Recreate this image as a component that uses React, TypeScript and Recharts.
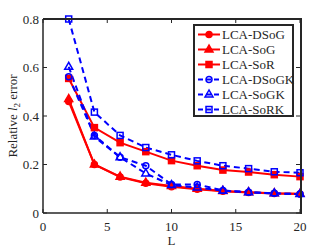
import { LineChart, Line, XAxis, YAxis } from "recharts"

const RED = "#ff0000"
const BLUE = "#0000ff"
const AXIS = "#262626"
const FONT = "'Liberation Serif', 'Times New Roman', serif"
const W = 332
const H = 249
const MARGIN = { top: 19, right: 32, left: 3, bottom: 6 }
const Y_AXIS_W = 40
const X_AXIS_H = 30

const L = [2, 4, 6, 8, 10, 12, 14, 16, 18, 20]
const dsog = [0.46, 0.2, 0.148, 0.123, 0.108, 0.098, 0.09, 0.085, 0.08, 0.078]
const sog = [0.47, 0.2, 0.15, 0.125, 0.111, 0.1, 0.091, 0.086, 0.081, 0.079]
const sor = [0.555, 0.352, 0.29, 0.253, 0.216, 0.195, 0.177, 0.169, 0.158, 0.15]
const dsogk = [0.562, 0.32, 0.23, 0.195, 0.118, 0.118, 0.093, 0.086, 0.081, 0.078]
const sogk = [0.603, 0.315, 0.23, 0.163, 0.115, 0.105, 0.092, 0.086, 0.081, 0.078]
const sork = [0.8, 0.416, 0.32, 0.27, 0.24, 0.215, 0.195, 0.183, 0.17, 0.166]

const xTicks = [0, 5, 10, 15, 20]
const yTicks = [0, 0.2, 0.4, 0.6, 0.8]
const X_MAX = 20
const Y_MAX = 0.8

const data = L.map((l, i) => ({
  L: l,
  dsog: dsog[i],
  sog: sog[i],
  sor: sor[i],
  dsogk: dsogk[i],
  sogk: sogk[i],
  sork: sork[i],
}))

const series = [
  { key: "dsog", name: "LCA-DSoG", color: RED, dashed: false, shape: "circle", filled: true },
  { key: "sog", name: "LCA-SoG", color: RED, dashed: false, shape: "triangle", filled: true },
  { key: "sor", name: "LCA-SoR", color: RED, dashed: false, shape: "square", filled: true },
  { key: "dsogk", name: "LCA-DSoGK", color: BLUE, dashed: true, shape: "circle", filled: false },
  { key: "sogk", name: "LCA-SoGK", color: BLUE, dashed: true, shape: "triangle", filled: false },
  { key: "sork", name: "LCA-SoRK", color: BLUE, dashed: true, shape: "square", filled: false },
]

function Marker({ cx, cy, shape, color, filled }: any) {
  const fill = filled ? color : "none"
  if (shape === "circle") {
    return <circle cx={cx} cy={cy} r={3} fill={fill} stroke={color} strokeWidth={1.5} />
  }
  if (shape === "triangle") {
    return (
      <polygon
        points={`${cx},${cy - 4.5} ${cx - 4},${cy + 2.5} ${cx + 4},${cy + 2.5}`}
        fill={fill}
        stroke={color}
        strokeWidth={1.5}
      />
    )
  }
  return <rect x={cx - 3} y={cy - 3} width={6} height={6} fill={fill} stroke={color} strokeWidth={1.5} />
}

const BottomTick = ({ x, y, payload }: any) => (
  <g>
    <line x1={x} x2={x} y1={y} y2={y - 4} stroke={AXIS} strokeWidth={1} />
    <text x={x} y={y + 18} textAnchor="middle" fontFamily={FONT} fontSize={13} fill={AXIS}>
      {payload.value}
    </text>
  </g>
)

const LeftTick = ({ x, y, payload }: any) => (
  <g>
    <line x1={x} x2={x + 4} y1={y} y2={y} stroke={AXIS} strokeWidth={1} />
    <text x={x - 4} y={y + 4.5} textAnchor="end" fontFamily={FONT} fontSize={13} fill={AXIS}>
      {payload.value}
    </text>
  </g>
)

// top and right sides of the box, with inward ticks; plot rect follows from the chart margins
function Frame() {
  const left = MARGIN.left + Y_AXIS_W
  const right = W - MARGIN.right
  const top = MARGIN.top
  const bottom = H - MARGIN.bottom - X_AXIS_H
  return (
    <>
      <div
        style={{
          position: "absolute",
          left: left,
          top: top - 1,
          width: right - left,
          height: bottom - top,
          borderTop: "2px solid #262626",
          borderRight: "2px solid #262626",
          pointerEvents: "none",
        }}
      />
      <svg width={W} height={H} style={{ position: "absolute", left: 0, top: 0, pointerEvents: "none" }}>
        {xTicks.map((t) => {
          const x = left + (t / X_MAX) * (right - left)
          return <line key={`tx${t}`} x1={x} x2={x} y1={top} y2={top + 4} stroke={AXIS} strokeWidth={1} />
        })}
        {yTicks.map((t) => {
          const y = bottom - (t / Y_MAX) * (bottom - top)
          return <line key={`ty${t}`} x1={right} x2={right - 4} y1={y} y2={y} stroke={AXIS} strokeWidth={1} />
        })}
      </svg>
    </>
  )
}

function LegendBox() {
  return (
    <div
      style={{
        position: "absolute",
        left: 193,
        top: 24,
        width: 97,
        height: 89,
        border: "2px solid #262626",
        background: "#fff",
        fontFamily: FONT,
        fontSize: 13,
        color: AXIS,
      }}
    >
      {series.map((s, i) => (
        <div
          key={s.key}
          style={{ position: "absolute", left: 2, top: 1 + i * 15, height: 15, display: "flex", alignItems: "center" }}
        >
          <svg width={24} height={15}>
            <line
              x1={1}
              x2={23}
              y1={7.5}
              y2={7.5}
              stroke={s.color}
              strokeWidth={2}
              strokeDasharray={s.dashed ? "5 3" : undefined}
            />
            <Marker cx={12} cy={7.5} shape={s.shape} color={s.color} filled={s.filled} />
          </svg>
          <span style={{ marginLeft: 1, lineHeight: "15px", whiteSpace: "nowrap" }}>{s.name}</span>
        </div>
      ))}
    </div>
  )
}

const YLabel = () => (
  <text transform="translate(17,116) rotate(-90)" textAnchor="middle" fontFamily={FONT} fontSize={13} fill={AXIS}>
    Relative <tspan fontStyle="italic">l</tspan>
    <tspan fontSize={9} dy={3}>2</tspan>
    <tspan dy={-3}> error</tspan>
  </text>
)

const XLabel = ({ viewBox }: any) => (
  <text x={viewBox.x + viewBox.width / 2} y={245} textAnchor="middle" fontFamily={FONT} fontSize={13} fill={AXIS}>
    L
  </text>
)

export default function App() {
  return (
    <div style={{ position: "absolute", left: 0, top: 0, width: W, height: H, background: "#fff" }}>
      <LineChart width={W} height={H} data={data} margin={MARGIN}>
        <XAxis
          dataKey="L"
          type="number"
          domain={[0, X_MAX]}
          ticks={xTicks}
          height={X_AXIS_H}
          tickSize={0}
          tickMargin={0}
          tickLine={false}
          tick={<BottomTick />}
          axisLine={{ stroke: AXIS, strokeWidth: 1.5 }}
          label={<XLabel />}
          interval={0}
        />
        <YAxis
          type="number"
          domain={[0, Y_MAX]}
          ticks={yTicks}
          width={Y_AXIS_W}
          tickSize={0}
          tickMargin={0}
          tickLine={false}
          tick={<LeftTick />}
          axisLine={{ stroke: AXIS, strokeWidth: 1.5 }}
          label={<YLabel />}
          interval={0}
        />
        {series.map((s) => (
          <Line
            key={s.key}
            dataKey={s.key}
            name={s.name}
            stroke={s.color}
            strokeWidth={2}
            strokeDasharray={s.dashed ? "6 4" : undefined}
            isAnimationActive={false}
            dot={(p: any) => (
              <Marker key={`${s.key}-${p.index}`} cx={p.cx} cy={p.cy} shape={s.shape} color={s.color} filled={s.filled} />
            )}
            activeDot={false}
          />
        ))}
      </LineChart>
      <Frame />
      <LegendBox />
    </div>
  )
}
